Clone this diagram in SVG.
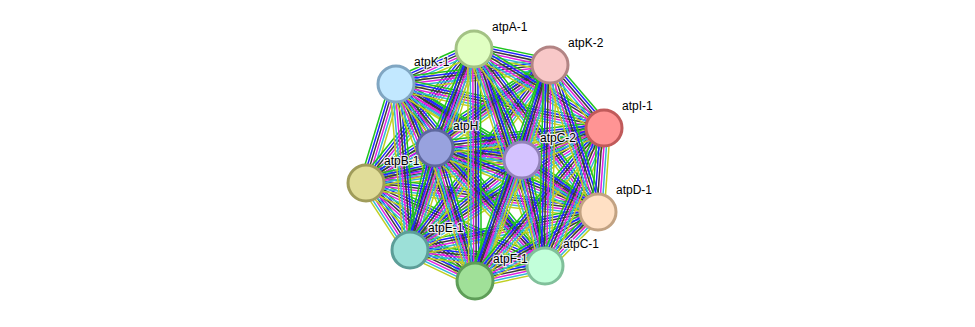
<svg xmlns="http://www.w3.org/2000/svg" width="975" height="327" viewBox="0 0 975 327">
<style>
.e line{stroke-width:1.5;fill:none}
.g{stroke:#1fc41f}.bl{stroke:#2222ff}.k{stroke:#3a3a3a}.m{stroke:#e020e0}.c{stroke:#33b5d8}.y{stroke:#c0d022}
.n circle{stroke-width:3}
.n text{font-family:"Liberation Sans",Arial,sans-serif;font-size:12px;fill:#000;stroke:#fff;stroke-width:2.5;stroke-opacity:0.85;paint-order:stroke;stroke-linejoin:round}
</style>
<defs>
<g id="b" class="e">
<line class="g" x1="0" y1="-6.25" x2="1" y2="-6.25"/>
<line class="bl" x1="0" y1="-3.75" x2="1" y2="-3.75"/>
<line class="k" x1="0" y1="-1.25" x2="1" y2="-1.25"/>
<line class="m" x1="0" y1="1.25" x2="1" y2="1.25"/>
<line class="c" x1="0" y1="3.75" x2="1" y2="3.75"/>
<line class="y" x1="0" y1="6.25" x2="1" y2="6.25"/>
</g>
</defs>
<rect width="975" height="327" fill="#fff"/>
<g id="connectors">
<use href="#b" transform="matrix(30 -99 0.957 0.290 366 183)"/>
<use href="#b" transform="matrix(44 67 -0.836 0.549 366 183)"/>
<use href="#b" transform="matrix(69 -35 0.452 0.892 366 183)"/>
<use href="#b" transform="matrix(108 -134 0.779 0.628 366 183)"/>
<use href="#b" transform="matrix(109 98 -0.669 0.744 366 183)"/>
<use href="#b" transform="matrix(156 -23 0.146 0.989 366 183)"/>
<use href="#b" transform="matrix(179 83 -0.421 0.907 366 183)"/>
<use href="#b" transform="matrix(184 -118 0.540 0.842 366 183)"/>
<use href="#b" transform="matrix(232 29 -0.124 0.992 366 183)"/>
<use href="#b" transform="matrix(238 -55 0.225 0.974 366 183)"/>
<use href="#b" transform="matrix(14 166 -0.996 0.084 396 84)"/>
<use href="#b" transform="matrix(39 64 -0.854 0.520 396 84)"/>
<use href="#b" transform="matrix(78 -35 0.409 0.912 396 84)"/>
<use href="#b" transform="matrix(79 197 -0.928 0.372 396 84)"/>
<use href="#b" transform="matrix(126 76 -0.516 0.856 396 84)"/>
<use href="#b" transform="matrix(149 182 -0.774 0.633 396 84)"/>
<use href="#b" transform="matrix(154 -19 0.122 0.992 396 84)"/>
<use href="#b" transform="matrix(202 128 -0.535 0.845 396 84)"/>
<use href="#b" transform="matrix(208 44 -0.207 0.978 396 84)"/>
<use href="#b" transform="matrix(25 -102 0.971 0.238 410 250)"/>
<use href="#b" transform="matrix(64 -201 0.953 0.303 410 250)"/>
<use href="#b" transform="matrix(65 31 -0.430 0.903 410 250)"/>
<use href="#b" transform="matrix(112 -90 0.626 0.780 410 250)"/>
<use href="#b" transform="matrix(135 16 -0.118 0.993 410 250)"/>
<use href="#b" transform="matrix(140 -185 0.797 0.603 410 250)"/>
<use href="#b" transform="matrix(188 -38 0.198 0.980 410 250)"/>
<use href="#b" transform="matrix(194 -122 0.532 0.847 410 250)"/>
<use href="#b" transform="matrix(39 -99 0.930 0.367 435 148)"/>
<use href="#b" transform="matrix(40 133 -0.958 0.288 435 148)"/>
<use href="#b" transform="matrix(87 12 -0.137 0.991 435 148)"/>
<use href="#b" transform="matrix(110 118 -0.731 0.682 435 148)"/>
<use href="#b" transform="matrix(115 -83 0.585 0.811 435 148)"/>
<use href="#b" transform="matrix(163 64 -0.365 0.931 435 148)"/>
<use href="#b" transform="matrix(169 -20 0.118 0.993 435 148)"/>
<use href="#b" transform="matrix(1 232 -1 0.004 474 49)"/>
<use href="#b" transform="matrix(48 111 -0.918 0.397 474 49)"/>
<use href="#b" transform="matrix(71 217 -0.950 0.311 474 49)"/>
<use href="#b" transform="matrix(76 16 -0.206 0.979 474 49)"/>
<use href="#b" transform="matrix(124 163 -0.796 0.605 474 49)"/>
<use href="#b" transform="matrix(130 79 -0.519 0.855 474 49)"/>
<use href="#b" transform="matrix(47 -121 0.932 0.362 475 281)"/>
<use href="#b" transform="matrix(70 -15 0.210 0.978 475 281)"/>
<use href="#b" transform="matrix(75 -216 0.945 0.328 475 281)"/>
<use href="#b" transform="matrix(123 -69 0.489 0.872 475 281)"/>
<use href="#b" transform="matrix(129 -153 0.765 0.645 475 281)"/>
<use href="#b" transform="matrix(23 106 -0.977 0.212 522 160)"/>
<use href="#b" transform="matrix(28 -95 0.959 0.283 522 160)"/>
<use href="#b" transform="matrix(76 52 -0.565 0.825 522 160)"/>
<use href="#b" transform="matrix(82 -32 0.364 0.932 522 160)"/>
<use href="#b" transform="matrix(5 -201 1 0.025 545 266)"/>
<use href="#b" transform="matrix(53 -54 0.714 0.700 545 266)"/>
<use href="#b" transform="matrix(59 -138 0.920 0.393 545 266)"/>
<use href="#b" transform="matrix(48 147 -0.951 0.310 550 65)"/>
<use href="#b" transform="matrix(54 63 -0.759 0.651 550 65)"/>
<use href="#b" transform="matrix(6 -84 0.997 0.071 598 212)"/>
</g>
<g id="atpA-1" class="n"><circle cx="474" cy="49" r="18" fill="#e0ffc2" stroke="#a3c284"/><text x="492" y="31">atpA-1</text></g>
<g id="atpK-2" class="n"><circle cx="550" cy="65" r="18" fill="#f8c8c8" stroke="#b28484"/><text x="568" y="47">atpK-2</text></g>
<g id="atpK-1" class="n"><circle cx="396" cy="84" r="18" fill="#c2e8ff" stroke="#80a6c2"/><text x="414" y="66">atpK-1</text></g>
<g id="atpI-1" class="n"><circle cx="604" cy="128" r="18" fill="#ff9494" stroke="#c05a5a"/><text x="622" y="110">atpI-1</text></g>
<g id="atpH" class="n"><circle cx="435" cy="148" r="18" fill="#98a2de" stroke="#5e689e"/><text x="453" y="130">atpH</text></g>
<g id="atpC-2" class="n"><circle cx="522" cy="160" r="18" fill="#d4c2ff" stroke="#9282b8"/><text x="540" y="142">atpC-2</text></g>
<g id="atpB-1" class="n"><circle cx="366" cy="183" r="18" fill="#e0dc98" stroke="#a09c5a"/><text x="384" y="165">atpB-1</text></g>
<g id="atpD-1" class="n"><circle cx="598" cy="212" r="18" fill="#ffe0c4" stroke="#c2a282"/><text x="616" y="194">atpD-1</text></g>
<g id="atpE-1" class="n"><circle cx="410" cy="250" r="18" fill="#9ce0d8" stroke="#5c9e98"/><text x="428" y="232">atpE-1</text></g>
<g id="atpC-1" class="n"><circle cx="545" cy="266" r="18" fill="#c2ffda" stroke="#80c09a"/><text x="563" y="248">atpC-1</text></g>
<g id="atpF-1" class="n"><circle cx="475" cy="281" r="18" fill="#a0e098" stroke="#5e9e58"/><text x="493" y="263">atpF-1</text></g>
</svg>
